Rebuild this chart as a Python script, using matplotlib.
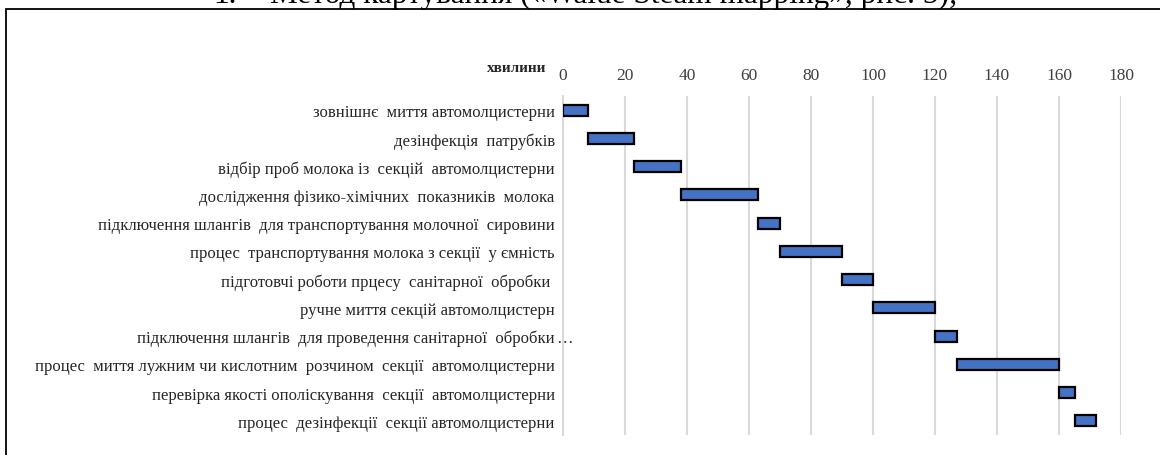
import numpy as np
import matplotlib
matplotlib.use('Agg')
import matplotlib.pyplot as plt
from matplotlib.patches import Rectangle

# task list (top to bottom), start minute and duration
tasks = ['зовнішнє  миття автомолцистерни',
         'дезінфекція  патрубків',
         'відбір проб молока із  секцій  автомолцистерни',
         'дослідження фізико-хімічних  показників  молока',
         'підключення шлангів  для транспортування молочної  сировини',
         'процес  транспортування молока з секції  у ємність',
         'підготовчі роботи прцесу  санітарної  обробки ',
         'ручне миття секцій автомолцистерн',
         'підключення шлангів  для проведення санітарної  обробки',
         'процес  миття лужним чи кислотним  розчином  секції  автомолцистерни',
         'перевірка якості ополіскування  секції  автомолцистерни',
         'процес  дезінфекції  секції автомолцистерни']
start = [0, 8, 23, 38, 63, 70, 90, 100, 120, 127, 160, 165]
dur = [8, 15, 15, 25, 7, 20, 10, 20, 7, 33, 5, 7]
xticks = [0, 20, 40, 60, 80, 100, 120, 140, 160, 180]

plt.rcParams['font.family'] = ['Liberation Serif', 'DejaVu Serif']
fs = 12
W, H = 1160, 456
fig = plt.figure(figsize=(W/100, H/100), dpi=100)

# page text cut off at the top
fig.text(213/W, 1-3/H, '1.', fontsize=22.5, va='baseline', ha='left', color='k')
fig.text(270/W, 1-3/H, 'Метод картування («Walue Steam mapping», рис. 5);',
         fontsize=22.5, va='baseline', ha='left', color='k')

# chart frame
frame = Rectangle((6/W, -0.1), 1.2, 1-10/H+0.1, transform=fig.transFigure,
                  fill=False, edgecolor='k', linewidth=1.3, zorder=5)
fig.patches.append(frame)

ax = fig.add_axes([563/W, 1-436/H, (1121-563)/W, (436-97)/H])
y = np.arange(len(tasks))
ax.barh(y, dur, left=start, height=0.39, color='#4472C4', edgecolor='k',
        linewidth=1.6, zorder=3)
ax.set_xlim(0, 180)
ax.set_ylim(len(tasks)-0.5, -0.5)
ax.set_xticks(xticks)
ax.xaxis.tick_top()
ax.tick_params(axis='x', length=0, pad=9, labelsize=12.5, labelcolor='#404040')
ax.tick_params(axis='y', length=0, pad=6, labelsize=fs, labelcolor='#262626')
ax.set_yticks(y)
ax.set_yticklabels(tasks)
ax.grid(axis='x', color='#d9d9d9', linewidth=1.5, zorder=0)
for s in ['top', 'right', 'bottom']:
    ax.spines[s].set_visible(False)
ax.spines['left'].set_color('#d9d9d9')
ax.spines['left'].set_linewidth(1.5)

# truncated label ellipsis
ax.annotate('…', xy=(0, 8), xytext=(-5, 0), textcoords='offset points',
            ha='left', va='center_baseline', fontsize=fs, color='#262626')

fig.text(546/W, 1-68/H, 'хвилини', fontsize=11, fontweight='bold',
         ha='right', va='center', color='#262626')

fig.savefig('out.png', dpi=100)
